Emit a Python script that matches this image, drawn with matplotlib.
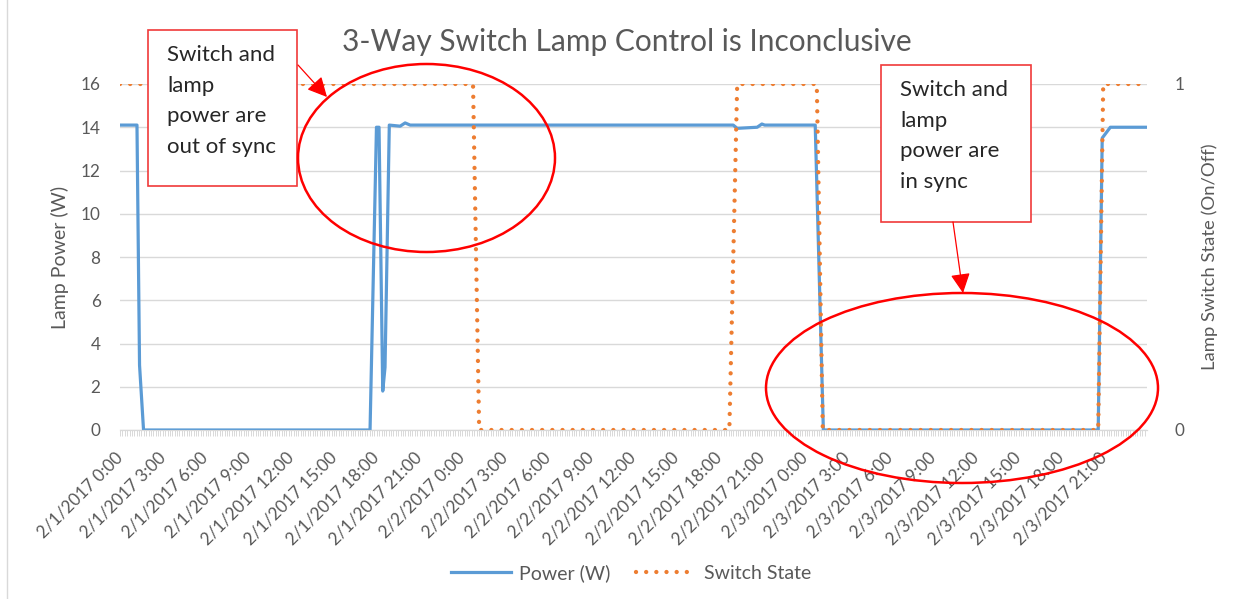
import matplotlib
matplotlib.use("Agg")
import matplotlib.pyplot as plt
from matplotlib.patches import Rectangle, Ellipse, FancyArrowPatch
import numpy as np

plt.rcParams['font.family'] = ['Lato', 'DejaVu Sans']

# ---------------- data ----------------
title = "3-Way Switch Lamp Control is Inconclusive"
x_labels = ["2/1/2017 0:00", "2/1/2017 3:00", "2/1/2017 6:00", "2/1/2017 9:00",
            "2/1/2017 12:00", "2/1/2017 15:00", "2/1/2017 18:00", "2/1/2017 21:00",
            "2/2/2017 0:00", "2/2/2017 3:00", "2/2/2017 6:00", "2/2/2017 9:00",
            "2/2/2017 12:00", "2/2/2017 15:00", "2/2/2017 18:00", "2/2/2017 21:00",
            "2/3/2017 0:00", "2/3/2017 3:00", "2/3/2017 6:00", "2/3/2017 9:00",
            "2/3/2017 12:00", "2/3/2017 15:00", "2/3/2017 18:00", "2/3/2017 21:00"]

# hours since 2/1/2017 0:00 and lamp power (W)
power_hours = [0.0, 1.19, 1.37, 1.65, 17.53, 17.98, 18.16, 18.42, 18.58, 18.88,
               19.64, 19.99, 20.34, 42.99, 43.27, 44.67, 45.0, 45.2, 48.74, 49.31,
               68.58, 68.86, 69.43, 72.0]
power_watts = [14.1, 14.1, 3.0, 0.0, 0.0, 14.0, 14.0, 1.8, 2.9, 14.1,
               14.05, 14.2, 14.1, 14.1, 13.95, 14.0, 14.15, 14.1, 14.1, 0.0,
               0.0, 13.5, 14.0, 14.0]

# hours since 2/1/2017 0:00 and switch state (1 = on, 0 = off)
switch_hours = [0.0, 24.75, 25.18, 42.72, 43.27, 48.85, 49.27, 68.58, 68.93, 72.0]
switch_state = [1, 1, 0, 0, 1, 1, 0, 0, 1, 1]

note_out = "Switch and\nlamp\npower are\nout of sync"
note_in = "Switch and\nlamp\npower are\nin sync"

# ---------------- figure ----------------
W, H = 1241, 599
fig = plt.figure(figsize=(W / 100, H / 100), dpi=100)
fig.patch.set_facecolor('white')

def fx(px):
    return px / W

def fy(py):
    return 1 - py / H

GRAY = '#595959'
GRID = '#D9D9D9'
BLUE = '#5B9BD5'
ORANGE = '#ED7D31'
RED = '#FF0000'

ax = fig.add_axes([fx(120), fy(430), fx(1147) - fx(120), fy(84) - fy(430)])
ax2 = ax.twinx()

ln1, = ax.plot(power_hours, power_watts, color=BLUE, lw=2.3, solid_joinstyle='round',
               label='Power (W)', zorder=3)
ln2, = ax2.plot(switch_hours, switch_state, color=ORANGE, lw=3.1,
                linestyle=(0, (0.01, 2.35)), dash_capstyle='round',
                label='Switch State', zorder=3)

ax.set_xlim(0, 72)
ax.set_ylim(0, 16)
ax2.set_ylim(0, 1)
ax.set_yticks(np.arange(0, 17, 2))
ax2.set_yticks([0, 1])
ax.yaxis.grid(True, color=GRID, lw=1)
ax.set_axisbelow(True)

tick_pos = np.arange(len(x_labels)) * 3
ax.set_xticks(tick_pos)
ax.set_xticklabels(x_labels, rotation=45, ha='right', va='center', rotation_mode='anchor')
ax.set_xticks(np.arange(0, 72, 1 / 6), minor=True)
ax.tick_params(axis='x', which='both', length=4.3, width=0.7, color=GRID,
               labelsize=12.3, labelcolor=GRAY, pad=13.5)
ax.tick_params(axis='y', length=0, labelsize=12.3, labelcolor=GRAY, pad=14)
ax2.tick_params(axis='y', length=0, labelsize=12.3, labelcolor=GRAY, pad=20)

for a in (ax, ax2):
    for s in ('top', 'left', 'right'):
        a.spines[s].set_visible(False)
    a.spines['bottom'].set_color(GRID)

ax.set_ylabel('Lamp Power (W)', color=GRAY, fontsize=14, labelpad=8)
ax2.set_ylabel('Lamp Switch State (On/Off)', color=GRAY, fontsize=13.3,
               rotation=90, labelpad=12)

fig.text(fx(627), fy(42), title, ha='center', va='center', fontsize=21.5, color=GRAY)

leg = fig.legend([ln1, ln2], ['Power (W)', 'Switch State'], loc='center',
                 bbox_to_anchor=(fx(631), fy(573)), ncol=2, frameon=False,
                 fontsize=14, labelcolor=GRAY, handlelength=3.1, columnspacing=1.3,
                 handletextpad=0.4)

# chart border (left)
fig.add_artist(plt.Line2D([fx(7), fx(7)], [0, 1], color=GRID, lw=1))

# annotations
def box(x0, y0, x1, y1, text):
    r = Rectangle((fx(x0), fy(y1)), fx(x1) - fx(x0), fy(y0) - fy(y1),
                  transform=fig.transFigure, facecolor='white', edgecolor='#F03A3A',
                  lw=1.2, zorder=10)
    fig.add_artist(r)
    fig.text(fx(x0 + 19), fy(y0 + 15), text, ha='left', va='top', fontsize=16,
             color='#262626', linespacing=1.66, zorder=11)

box(148, 30, 297, 186, note_out)
box(881, 65, 1031, 222, note_in)

for (cx, cy, w, h) in [(426.5, 158, 257, 188), (962, 388, 392, 190)]:
    e = Ellipse((fx(cx), fy(cy)), fx(w), h / H, transform=fig.transFigure,
                facecolor='none', edgecolor=RED, lw=1.8, zorder=12)
    fig.add_artist(e)

for (x0, y0, x1, y1) in [(298, 65, 327, 97), (953, 222, 963, 293)]:
    a = FancyArrowPatch((fx(x0), fy(y0)), (fx(x1), fy(y1)), transform=fig.transFigure,
                        arrowstyle='-|>,head_length=8,head_width=4', color=RED,
                        lw=0.9, mutation_scale=1.5, shrinkA=0, shrinkB=0, zorder=12)
    fig.add_artist(a)

fig.savefig('out.png', dpi=100)
